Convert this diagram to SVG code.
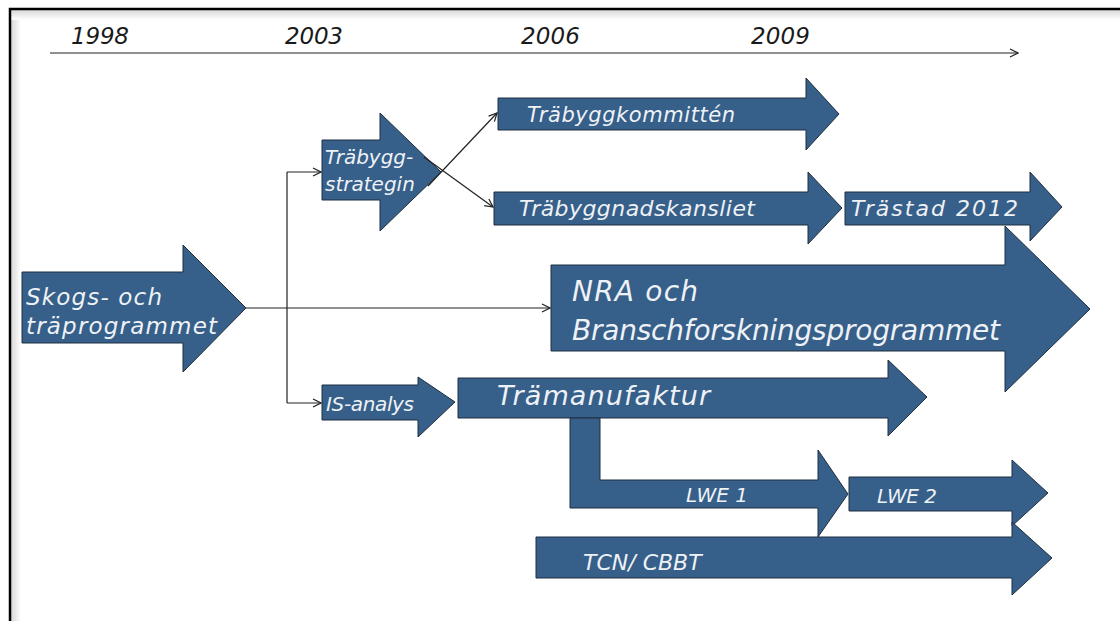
<svg xmlns="http://www.w3.org/2000/svg" width="1120" height="621" viewBox="0 0 1120 621">
<defs>
<marker id="open" viewBox="0 0 10 10" refX="9" refY="5" markerWidth="10" markerHeight="10" markerUnits="userSpaceOnUse" orient="auto">
<path d="M1,1 L9,5 L1,9" fill="none" stroke="#222" stroke-width="1.2"/>
</marker>
<linearGradient id="shL" x1="0" x2="1" y1="0" y2="0"><stop offset="0" stop-color="#d8d8d8"/><stop offset="1" stop-color="#fff"/></linearGradient>
<linearGradient id="shT" x1="0" x2="0" y1="0" y2="1"><stop offset="0" stop-color="#d8d8d8"/><stop offset="1" stop-color="#fff"/></linearGradient>
</defs>
<style>
.shape{fill:#365f89;stroke:#1e2f40;stroke-width:1}
.lbl{fill:#eef2f6;font-family:"DejaVu Sans","Liberation Sans",sans-serif;font-style:italic}
.yr{fill:#1a1a1a;font-family:"DejaVu Sans","Liberation Sans",sans-serif;font-style:italic;font-size:23px}
.conn{fill:none;stroke:#222;stroke-width:1.2}
</style>
<rect width="1120" height="621" fill="#fff"/>
<g id="frame">
<rect x="11" y="10" width="10" height="611" fill="url(#shL)"/>
<rect x="11" y="10" width="1109" height="10" fill="url(#shT)"/>
<path d="M10,621 V9 H1120" fill="none" stroke="#000" stroke-width="2.5"/>
</g>
<g id="timeline">
<text class="yr" x="71" y="44" textLength="58" lengthAdjust="spacing">1998</text>
<text class="yr" x="285" y="44" textLength="58" lengthAdjust="spacing">2003</text>
<text class="yr" x="521" y="44" textLength="59" lengthAdjust="spacing">2006</text>
<text class="yr" x="751" y="44" textLength="59" lengthAdjust="spacing">2009</text>
<line x1="50" y1="53" x2="1018" y2="53" class="conn" stroke-width="1" marker-end="url(#open)"/>
</g>
<g id="connectors">
<line class="conn" x1="246" y1="308" x2="550" y2="308" marker-end="url(#open)"/>
<path class="conn" d="M287,403 V172"/>
<line class="conn" x1="287" y1="172" x2="321" y2="172" marker-end="url(#open)"/>
<line class="conn" x1="287" y1="403" x2="321" y2="403" marker-end="url(#open)"/>
</g>
<g id="skogs">
<polygon class="shape" points="22,272 183,272 183,245 246,308 183,372 183,343 22,343"/>
<text class="lbl" x="26" y="305" font-size="23" textLength="136" lengthAdjust="spacing">Skogs- och</text>
<text class="lbl" x="26" y="334" font-size="23" textLength="191" lengthAdjust="spacing">träprogrammet</text>
</g>
<g id="strategin">
<polygon class="shape" points="322,140 380,140 380,113 441,172 380,231 380,200 322,200"/>
<text class="lbl" x="325" y="164" font-size="20">Träbygg-</text>
<text class="lbl" x="325" y="191" font-size="20">strategin</text>
</g>
<g id="connectors2">
<line class="conn" x1="428" y1="186" x2="497" y2="113" marker-end="url(#open)"/>
<line class="conn" x1="424" y1="157" x2="493" y2="207" marker-end="url(#open)"/>
</g>
<g id="kommitten">
<polygon class="shape" points="498,98 806,98 806,78 839,114 806,150 806,130 498,130"/>
<text class="lbl" x="527" y="122" font-size="21" textLength="208" lengthAdjust="spacing">Träbyggkommittén</text>
</g>
<g id="kansliet">
<polygon class="shape" points="494,192 808,192 808,172 842,208 808,244 808,225 494,225"/>
<text class="lbl" x="519" y="216" font-size="22" textLength="236" lengthAdjust="spacing">Träbyggnadskansliet</text>
</g>
<g id="nra">
<polygon class="shape" points="551,265 1005,265 1005,226 1090,309 1005,392 1005,351 551,351"/>
<text class="lbl" x="572" y="301" font-size="28" textLength="126" lengthAdjust="spacing">NRA och</text>
<text class="lbl" x="572" y="340" font-size="28" textLength="428" lengthAdjust="spacing">Branschforskningsprogrammet</text>
</g>
<g id="trastad">
<polygon class="shape" points="845,192 1030,192 1030,172 1062,207 1030,241 1030,225 845,225"/>
<text class="lbl" x="851" y="216" font-size="22" textLength="167" lengthAdjust="spacing">Trästad 2012</text>
</g>
<g id="isanalys">
<polygon class="shape" points="322,385 418,385 418,377 455,402 418,437 418,420 322,420"/>
<text class="lbl" x="326" y="411" font-size="20" textLength="88" lengthAdjust="spacing">IS-analys</text>
</g>
<g id="tramanufaktur">
<polygon class="shape" points="458,378 888,378 888,360 927,397 888,436 888,418 458,418"/>
<text class="lbl" x="497" y="405" font-size="27" textLength="213" lengthAdjust="spacing">Trämanufaktur</text>
</g>
<g id="lwe1">
<polygon class="shape" points="570,418 600,418 600,480 818,480 818,450 848,494 818,537 818,508 570,508"/>
<text class="lbl" x="686" y="502" font-size="20" textLength="62" lengthAdjust="spacing">LWE 1</text>
</g>
<g id="lwe2">
<polygon class="shape" points="849,477 1012,477 1012,460 1048,493 1012,526 1012,511 849,511"/>
<text class="lbl" x="877" y="503" font-size="20" textLength="60" lengthAdjust="spacing">LWE 2</text>
</g>
<g id="tcn">
<polygon class="shape" points="536,537 1012,537 1012,522 1052,558 1012,595 1012,578 536,578"/>
<text class="lbl" x="583" y="570" font-size="22">TCN/ CBBT</text>
</g>
</svg>
